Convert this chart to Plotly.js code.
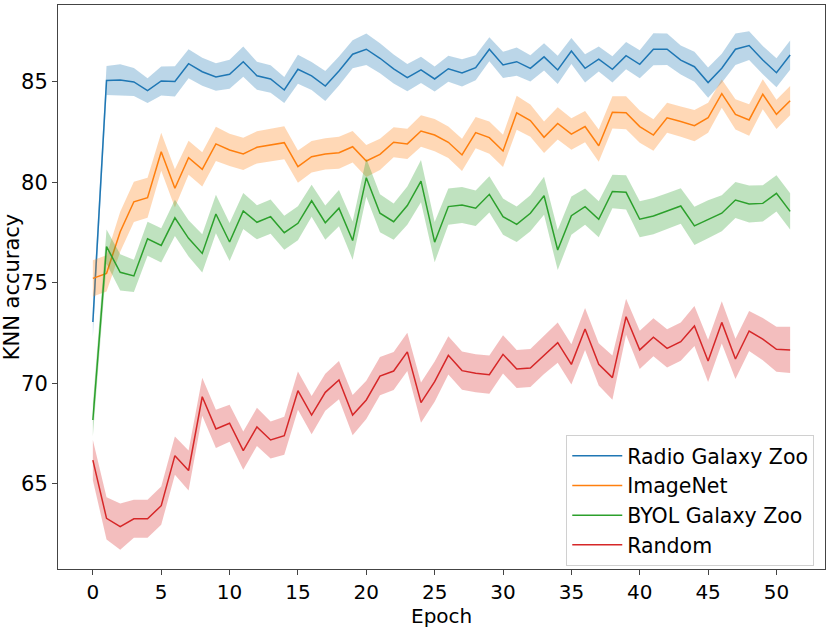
<!DOCTYPE html>
<html>
<head>
<meta charset="utf-8">
<script src="https://cdn.plot.ly/plotly-3.0.1.min.js"></script>
<style>html,body{margin:0;padding:0;background:#fff;}#chart{width:830px;height:629px;}</style>
</head>
<body>
<div id="chart"></div>
<script>
const epochs = Array.from({length: 52}, (_, i) => i);

const seriesNames = ["Radio Galaxy Zoo", "ImageNet", "BYOL Galaxy Zoo", "Random"];
const seriesColors = ["#1f77b4", "#ff7f0e", "#2ca02c", "#d62728"];
const bandColors = ["rgba(31,119,180,0.3)", "rgba(255,127,14,0.3)", "rgba(44,160,44,0.3)", "rgba(214,39,40,0.3)"];

const radioMean = [73.06, 85.07, 85.10, 85.00, 84.57, 85.05, 85.03, 85.91, 85.51, 85.25,
  85.38, 86.01, 85.31, 85.15, 84.60, 85.63, 85.30, 84.80, 85.55, 86.38,
  86.63, 86.18, 85.65, 85.22, 85.60, 85.15, 85.66, 85.45, 85.71, 86.63,
  85.85, 86.01, 85.68, 86.25, 85.60, 86.54, 85.68, 86.14, 85.63, 86.31,
  85.88, 86.63, 86.63, 86.09, 85.76, 84.97, 85.68, 86.63, 86.81, 86.09,
  85.46, 86.34];
const radioStd = [0.75, 0.72, 0.78, 0.70, 0.62, 0.72, 0.75, 0.72, 0.70, 0.68,
  0.72, 0.75, 0.70, 0.68, 0.65, 0.72, 0.70, 0.75, 0.72, 0.70,
  0.78, 0.75, 0.72, 0.68, 0.65, 0.62, 0.65, 0.68, 0.62, 0.60,
  0.65, 0.70, 0.65, 0.68, 0.70, 0.65, 0.70, 0.62, 0.65, 0.68,
  0.70, 0.80, 0.78, 0.72, 0.75, 0.75, 0.72, 0.78, 0.72, 0.70,
  0.72, 0.73];

const imagenetMean = [75.23, 75.48, 77.55, 79.04, 79.24, 81.53, 79.71, 81.23, 80.65, 81.92,
  81.62, 81.42, 81.75, 81.87, 81.98, 80.79, 81.28, 81.42, 81.48, 81.78,
  81.07, 81.40, 82.00, 81.92, 82.56, 82.36, 82.00, 81.37, 82.48, 82.23,
  81.57, 83.47, 83.08, 82.25, 82.94, 82.41, 82.78, 81.83, 83.49, 83.47,
  82.78, 82.36, 83.22, 83.03, 82.83, 83.22, 84.42, 83.39, 83.11, 84.39,
  83.39, 84.07];
const imagenetStd = [0.90, 0.90, 1.00, 1.00, 1.00, 0.95, 0.95, 0.85, 0.85, 0.85,
  0.80, 0.80, 0.80, 0.80, 0.82, 0.80, 0.78, 0.78, 0.80, 0.78,
  0.80, 0.78, 0.75, 0.75, 0.78, 0.80, 0.78, 0.80, 0.78, 0.80,
  0.80, 0.85, 0.80, 0.78, 0.80, 0.78, 0.78, 0.80, 0.80, 0.82,
  0.80, 0.78, 0.75, 0.75, 0.78, 0.75, 0.70, 0.75, 0.78, 0.75,
  0.73, 0.73];

const byolMean = [68.18, 76.81, 75.53, 75.35, 77.20, 76.87, 78.24, 77.22, 76.47, 78.43,
  77.04, 78.58, 78.02, 78.30, 77.50, 77.97, 79.09, 78.00, 78.72, 77.11,
  80.24, 78.47, 78.05, 78.85, 80.07, 77.03, 78.80, 78.88, 78.72, 79.41,
  78.30, 77.92, 78.47, 79.34, 76.64, 78.35, 78.80, 78.17, 79.55, 79.51,
  78.17, 78.33, 78.58, 78.83, 77.84, 78.17, 78.47, 79.13, 78.93, 78.96,
  79.46, 78.56];
const byolStd = [0.80, 0.85, 0.90, 0.80, 0.85, 0.85, 0.90, 0.90, 0.95, 0.96,
  0.95, 0.90, 0.85, 0.85, 0.85, 0.85, 0.80, 0.85, 0.90, 0.95,
  0.95, 0.95, 0.90, 0.95, 1.05, 1.00, 0.90, 0.90, 0.88, 0.90,
  0.90, 0.88, 0.90, 0.95, 1.00, 0.95, 0.90, 0.90, 0.83, 0.85,
  0.90, 0.90, 0.88, 0.88, 0.95, 0.95, 0.90, 0.90, 0.92, 0.90,
  0.90, 0.90];

const randomMean = [66.19, 63.29, 62.88, 63.27, 63.27, 63.92, 66.41, 65.67, 69.34, 67.74,
  68.02, 66.66, 67.84, 67.19, 67.40, 69.64, 68.43, 69.56, 70.17, 68.43,
  69.18, 70.37, 70.62, 71.57, 69.05, 70.09, 71.40, 70.64, 70.51, 70.44,
  71.45, 70.72, 70.77, 71.42, 72.03, 70.95, 72.71, 70.95, 70.29, 73.32,
  71.67, 72.30, 71.75, 72.08, 72.86, 71.12, 73.04, 71.22, 72.61, 72.21,
  71.70, 71.67];
const randomStd = [1.00, 1.05, 1.15, 0.95, 0.95, 0.95, 0.95, 1.00, 0.95, 0.95,
  0.92, 0.95, 0.95, 0.92, 0.95, 0.95, 0.95, 0.92, 0.95, 1.00,
  0.95, 0.95, 0.95, 0.95, 1.00, 1.00, 0.95, 0.95, 0.95, 0.95,
  0.95, 0.95, 0.95, 0.95, 1.00, 1.00, 1.05, 1.05, 1.10, 0.90,
  0.95, 0.95, 0.95, 0.95, 1.00, 1.05, 1.05, 1.00, 1.00, 1.05,
  1.12, 1.15];

const means = [radioMean, imagenetMean, byolMean, randomMean];
const stds = [radioStd, imagenetStd, byolStd, randomStd];

const traces = [];
for (let s = 0; s < 4; s++) {
  const m = means[s], sd = stds[s];
  const upper = m.map((v, i) => v + sd[i]);
  const lower = m.map((v, i) => v - sd[i]);
  traces.push({
    x: epochs.concat(epochs.slice().reverse()),
    y: upper.concat(lower.slice().reverse()),
    type: "scatter", mode: "lines", fill: "toself",
    fillcolor: bandColors[s], line: {width: 0, color: "rgba(0,0,0,0)"},
    showlegend: false, hoverinfo: "skip"
  });
  traces.push({
    x: epochs, y: m, type: "scatter", mode: "lines",
    name: seriesNames[s],
    line: {color: seriesColors[s], width: 1.5}
  });
}

const font = {family: "DejaVu Sans, sans-serif", size: 21, color: "#000"};
const xfont = {family: "DejaVu Sans, sans-serif", size: 20, color: "#000"};
const layout = {
  width: 830, height: 629,
  margin: {l: 58, r: 5, t: 5, b: 60},
  paper_bgcolor: "#fff", plot_bgcolor: "#fff",
  font: font,
  showlegend: true,
  legend: {
    x: 0.986, y: 0.0053, xanchor: "right", yanchor: "bottom",
    bgcolor: "rgba(255,255,255,0.85)", bordercolor: "#d0d0d0", borderwidth: 1,
    font: {family: "DejaVu Sans, sans-serif", size: 20.5, color: "#000"},
    itemwidth: 50,
    tracegroupgap: 0
  },
  xaxis: {
    range: [-2.55, 53.55], tickmode: "array",
    tickvals: [0, 5, 10, 15, 20, 25, 30, 35, 40, 45, 50],
    ticks: "outside", ticklen: 5, tickcolor: "#444", tickwidth: 1,
    showgrid: false, zeroline: false,
    showline: true, mirror: true, linecolor: "#444", linewidth: 1,
    tickfont: xfont
  },
  yaxis: {
    range: [60.77, 88.83], tickmode: "array",
    tickvals: [65, 70, 75, 80, 85],
    ticks: "outside", ticklen: 5, tickcolor: "#444", tickwidth: 1,
    showgrid: false, zeroline: false,
    showline: true, mirror: true, linecolor: "#444", linewidth: 1,
    tickfont: font,
    title: {text: "KNN accuracy", font: font, standoff: 6}
  },
  annotations: [{
    text: "Epoch", xref: "paper", yref: "paper", x: 0.5, y: -0.1064,
    xanchor: "center", yanchor: "bottom", showarrow: false, borderpad: 0,
    font: xfont
  }]
};

Plotly.newPlot("chart", traces, layout, {displayModeBar: false, staticPlot: true});
</script>
</body>
</html>
